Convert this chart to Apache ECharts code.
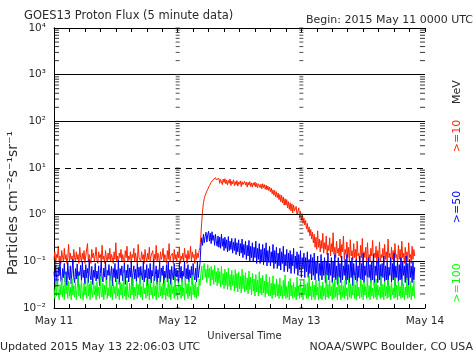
<!DOCTYPE html>
<html><head><meta charset="utf-8">
<script src="https://cdn.jsdelivr.net/npm/echarts@6/dist/echarts.min.js"></script>
<style>html,body{margin:0;padding:0;background:#fff}#c{width:474px;height:355px}</style>
</head><body><div id="c"></div>
<script>
// first sample time (hours after 2015 May 11 00:00 UTC) and sample step (hours)
const startHour = 0;
const stepHours = 1/6;

// >=10 MeV
const red = [
0.11,0.16,0.09,0.14,0.12,0.21,0.10,0.13,0.09,0.17,
0.12,0.10,0.19,0.11,0.14,0.09,0.12,0.23,0.10,0.15,
0.11,0.13,0.09,0.18,0.12,0.10,0.16,0.11,0.14,0.09,
0.20,0.12,0.10,0.15,0.11,0.17,0.09,0.13,0.12,0.24,
0.10,0.14,0.11,0.09,0.18,0.12,0.15,0.10,0.13,0.20,
0.11,0.09,0.16,0.12,0.14,0.10,0.22,0.11,0.13,0.09,
0.17,0.12,0.10,0.15,0.11,0.19,0.10,0.14,0.12,0.09,
0.16,0.11,0.25,0.10,0.13,0.09,0.15,0.12,0.18,0.10,
0.14,0.11,0.09,0.17,0.12,0.21,0.10,0.13,0.11,0.16,
0.09,0.14,0.12,0.19,0.10,0.15,0.11,0.09,0.23,0.12,
0.13,0.10,0.16,0.11,0.14,0.09,0.18,0.12,0.10,0.15,
0.11,0.20,0.10,0.13,0.12,0.17,0.09,0.14,0.11,0.22,
0.10,0.15,0.12,0.09,0.16,0.11,0.13,0.19,0.10,0.14,
0.12,0.09,0.17,0.11,0.24,0.10,0.13,0.12,0.15,0.09,
0.18,0.11,0.14,0.10,0.16,0.12,0.20,0.09,0.13,0.11,
0.15,0.10,0.19,0.12,0.14,0.09,0.17,0.11,0.13,0.21,
0.10,0.16,0.12,0.14,0.09,0.18,0.11,0.15,0.12,0.17,
0.2,0.35,0.7,1.2,1.8,2.2,2.6,2.9,3.1,3.5,3.8,4.2,4.4,4.9,5.2,5.5,5.3,5.9,6.2,5.6,6.0,
5.1,6.0,4.7,5.7,5.0,4.4,5.8,4.9,5.9,4.6,
5.5,4.3,5.4,4.7,5.8,4.2,5.2,4.6,5.6,4.2,
5.1,4.4,5.4,4.1,5.0,4.5,5.3,4.0,5.1,4.4,
4.1,5.2,4.3,5.0,3.9,4.9,4.3,5.1,4.0,4.8,
3.9,4.8,4.2,5.0,3.9,4.7,3.8,4.6,4.8,3.8,
4.5,3.6,4.6,3.8,4.4,3.5,4.3,3.4,4.1,3.3,
3.9,3.1,3.7,2.8,3.4,2.6,3.3,2.4,3.1,2.3,
2.9,2.1,2.7,1.9,2.6,1.8,2.4,1.6,2.2,1.6,
2.1,1.4,1.9,1.3,1.8,1.2,1.7,1.1,1.6,1.2,
1.2,1.5,1.0,1.1,1.4,0.85,1.2,0.75,1.05,0.65,
0.85,0.6,0.75,0.5,0.65,0.42,0.55,0.35,0.48,0.3,
0.42,0.25,0.38,0.2,0.33,0.18,0.45,0.2,0.3,0.16,
0.28,0.19,0.4,0.15,0.25,0.18,0.35,0.14,0.22,0.17,
0.32,0.13,0.24,0.16,0.41,0.14,0.2,0.12,0.27,0.15,
0.19,0.13,0.3,0.12,0.23,0.16,0.35,0.11,0.18,0.14,
0.26,0.12,0.2,0.1,0.29,0.13,0.17,0.11,0.24,0.12,
0.18,0.1,0.27,0.13,0.15,0.09,0.22,0.12,0.31,0.1,
0.16,0.12,0.2,0.09,0.25,0.11,0.14,0.1,0.19,0.13,
0.28,0.1,0.15,0.12,0.21,0.09,0.17,0.11,0.26,0.1,
0.14,0.12,0.19,0.09,0.23,0.11,0.16,0.1,0.3,0.12,
0.15,0.09,0.2,0.11,0.17,0.1,0.24,0.12,0.14,0.09,
0.22,0.11,0.18,0.1,0.27,0.12,0.15,0.09,0.2,0.11,
0.16,0.1,0.25,0.12,0.14,0.09,0.21,0.11,0.18,0.13
];
// >=50 MeV
const blue = [
0.06,0.035,0.085,0.045,0.03,0.075,0.05,0.1,0.04,0.032,
0.07,0.045,0.09,0.036,0.06,0.03,0.095,0.05,0.04,0.08,
0.033,0.065,0.11,0.045,0.035,0.07,0.042,0.088,0.03,0.06,
0.05,0.082,0.038,0.1,0.045,0.065,0.032,0.085,0.044,0.07,
0.035,0.11,0.05,0.04,0.078,0.032,0.065,0.045,0.09,0.038,
0.062,0.042,0.08,0.03,0.055,0.098,0.044,0.036,0.072,0.046,
0.1,0.033,0.064,0.05,0.085,0.038,0.052,0.078,0.03,0.07,
0.045,0.09,0.036,0.066,0.042,0.105,0.032,0.07,0.05,0.08,
0.038,0.055,0.092,0.032,0.065,0.044,0.085,0.036,0.072,0.046,
0.1,0.03,0.058,0.08,0.042,0.068,0.036,0.09,0.045,0.075,
0.033,0.078,0.05,0.04,0.1,0.036,0.066,0.044,0.085,0.03,
0.07,0.042,0.09,0.034,0.064,0.048,0.11,0.038,0.052,0.08,
0.032,0.066,0.044,0.095,0.036,0.072,0.05,0.08,0.03,0.062,
0.045,0.085,0.036,0.1,0.042,0.066,0.032,0.078,0.05,0.04,
0.09,0.035,0.07,0.046,0.064,0.03,0.095,0.044,0.078,0.036,
0.062,0.048,0.1,0.032,0.07,0.042,0.085,0.036,0.066,0.044,
0.078,0.032,0.09,0.05,0.04,0.072,0.036,0.1,0.045,0.065,
0.09,0.2,0.32,0.22,0.38,0.25,0.34,0.42,0.26,0.37,0.44,0.27,0.4,0.24,0.43,0.28,0.36,0.22,0.38,0.26,0.21,
0.35,0.2,0.33,0.19,0.38,0.21,0.31,0.17,0.33,0.19,
0.29,0.16,0.34,0.17,0.27,0.18,0.31,0.15,0.26,0.17,
0.31,0.14,0.25,0.16,0.29,0.13,0.24,0.15,0.3,0.12,
0.23,0.14,0.27,0.11,0.22,0.13,0.28,0.1,0.21,0.12,
0.25,0.1,0.2,0.12,0.27,0.09,0.19,0.11,0.24,0.09,
0.18,0.1,0.23,0.085,0.19,0.1,0.25,0.08,0.17,0.095,
0.21,0.08,0.16,0.095,0.23,0.07,0.17,0.09,0.2,0.07,
0.15,0.08,0.19,0.065,0.16,0.09,0.21,0.06,0.14,0.08,
0.18,0.06,0.15,0.07,0.17,0.055,0.14,0.08,0.19,0.055,
0.13,0.07,0.16,0.05,0.14,0.065,0.17,0.045,0.12,0.07,
0.15,0.045,0.12,0.06,0.16,0.045,0.11,0.055,0.14,0.04,
0.12,0.05,0.15,0.04,0.1,0.055,0.13,0.038,0.09,0.05,
0.14,0.04,0.1,0.05,0.12,0.035,0.1,0.05,0.15,0.04,
0.09,0.05,0.12,0.035,0.1,0.045,0.14,0.04,0.08,0.032,
0.12,0.045,0.09,0.035,0.13,0.04,0.08,0.05,0.11,0.032,
0.14,0.04,0.085,0.035,0.1,0.045,0.12,0.03,0.09,0.05,
0.04,0.11,0.035,0.08,0.045,0.13,0.03,0.09,0.04,0.15,
0.035,0.08,0.05,0.1,0.03,0.12,0.045,0.085,0.035,0.1,
0.04,0.14,0.03,0.08,0.05,0.1,0.035,0.12,0.04,0.085,
0.03,0.09,0.045,0.13,0.035,0.08,0.04,0.1,0.03,0.075,
0.05,0.12,0.035,0.09,0.04,0.15,0.03,0.08,0.045,0.1,
0.035,0.085,0.04,0.12,0.03,0.1,0.05,0.08,0.035,0.13,
0.04,0.09,0.03,0.11,0.045,0.08,0.035,0.1,0.04,0.075
];
// >=100 MeV
const green = [
0.026,0.016,0.036,0.018,0.045,0.02,0.015,0.032,0.019,0.04,
0.017,0.03,0.015,0.052,0.02,0.031,0.016,0.038,0.018,0.028,
0.015,0.043,0.019,0.03,0.017,0.035,0.015,0.026,0.048,0.018,
0.032,0.016,0.039,0.02,0.015,0.034,0.019,0.029,0.016,0.055,
0.018,0.033,0.015,0.038,0.021,0.017,0.042,0.019,0.03,0.015,
0.037,0.018,0.028,0.016,0.047,0.02,0.017,0.034,0.015,0.031,
0.019,0.04,0.016,0.027,0.018,0.05,0.017,0.03,0.015,0.035,
0.02,0.029,0.016,0.042,0.018,0.026,0.015,0.036,0.019,0.033,
0.016,0.057,0.018,0.029,0.015,0.039,0.02,0.017,0.034,0.016,
0.03,0.019,0.044,0.015,0.028,0.018,0.037,0.016,0.032,0.019,
0.049,0.017,0.029,0.015,0.035,0.02,0.027,0.016,0.041,0.018,
0.033,0.015,0.039,0.019,0.028,0.016,0.046,0.018,0.03,0.015,
0.036,0.02,0.017,0.052,0.018,0.029,0.016,0.034,0.019,0.04,
0.015,0.027,0.018,0.043,0.017,0.032,0.015,0.037,0.02,0.029,
0.016,0.048,0.018,0.028,0.015,0.035,0.019,0.031,0.016,0.041,
0.018,0.027,0.015,0.044,0.02,0.033,0.016,0.039,0.018,0.029,
0.015,0.051,0.019,0.032,0.017,0.036,0.016,0.028,0.018,0.042,
0.03,0.055,0.08,0.04,0.07,0.09,0.045,0.068,0.035,0.085,0.045,0.072,0.03,0.078,0.04,0.066,0.032,0.082,0.036,0.06,0.03,
0.072,0.034,0.06,0.028,0.078,0.032,0.055,0.026,0.068,0.03,
0.058,0.025,0.072,0.029,0.052,0.024,0.064,0.03,0.05,0.023,
0.066,0.027,0.055,0.022,0.06,0.026,0.048,0.021,0.068,0.026,
0.05,0.022,0.057,0.024,0.044,0.02,0.062,0.025,0.046,0.019,
0.055,0.023,0.042,0.018,0.052,0.022,0.04,0.018,0.06,0.021,
0.044,0.019,0.05,0.021,0.038,0.017,0.053,0.02,0.036,0.018,
0.046,0.018,0.034,0.016,0.049,0.019,0.033,0.017,0.042,0.018,
0.032,0.016,0.044,0.018,0.03,0.016,0.039,0.018,0.051,0.016,
0.029,0.017,0.037,0.015,0.043,0.018,0.031,0.016,0.035,0.017,
0.028,0.015,0.046,0.018,0.03,0.016,0.038,0.017,0.027,0.015,
0.042,0.019,0.032,0.016,0.035,0.016,0.049,0.018,0.029,0.015,
0.037,0.017,0.031,0.015,0.04,0.019,0.028,0.015,0.045,0.016,
0.03,0.015,0.036,0.018,0.027,0.015,0.052,0.017,0.032,0.016,
0.039,0.018,0.029,0.015,0.035,0.016,0.042,0.017,0.028,0.015,
0.047,0.019,0.031,0.015,0.037,0.017,0.03,0.016,0.04,0.018,
0.027,0.015,0.043,0.017,0.033,0.016,0.029,0.019,0.05,0.016,
0.031,0.015,0.038,0.018,0.028,0.016,0.041,0.017,0.032,0.015,
0.036,0.019,0.029,0.016,0.046,0.017,0.03,0.015,0.039,0.018,
0.027,0.016,0.035,0.017,0.042,0.015,0.031,0.019,0.028,0.016,
0.048,0.017,0.032,0.015,0.037,0.018,0.029,0.016,0.04,0.017,
0.03,0.015,0.036,0.019,0.027,0.016,0.045,0.017,0.031,0.015,
0.038,0.018,0.029,0.016,0.041,0.017,0.033,0.015,0.028,0.019,
0.044,0.016,0.031,0.017,0.037,0.015,0.029,0.018,0.039,0.016
];

const dayLabels = ['May 11','May 12','May 13','May 14'];
const yTickValues = [0.01,0.1,1,10,100,1000,10000];
const yTickLabels = ['10⁻²','10⁻¹','10⁰','10¹','10²','10³','10⁴'];
const solidDecades = [0.1,1,100,1000];
const dashedDecades = [10];
const minorMults = [2,3,4,5,6,7,8,9];
const dayLineHours = [24,48];
const xMin = 0, xMax = 72, xTickStep = 3;

function pairs(arr){ return arr.map((v,i)=>[startHour+i*stepHours, v]); }

const minorVals = [];
for (let k=-2;k<4;k++) for (const m of minorMults) minorVals.push(+(m*Math.pow(10,k)).toPrecision(3));
const dayTickVals = minorVals.concat(yTickValues);

const FONT = 'DejaVu Sans';
const TXT = '#2a2a2a';
const RED = '#ff2200', BLUE = '#0000ff', GREEN = '#00ff00';

const chart = echarts.init(document.getElementById('c'), null, {renderer:'canvas'});
chart.setOption({
  animation:false,
  backgroundColor:'#fff',
  title:[
    {text:'GOES13 Proton Flux (5 minute data)', left:19, top:5, textStyle:{fontFamily:FONT,fontSize:11.5,fontWeight:'normal',color:TXT}},
    {text:'Begin: 2015 May 11 0000 UTC', right:-4, top:10, textStyle:{fontFamily:FONT,fontSize:11,fontWeight:'normal',color:TXT}}
  ],
  grid:{left:54,right:49,top:28,bottom:47,containLabel:false},
  xAxis:[
    {type:'value',position:'bottom',min:xMin,max:xMax,interval:xTickStep,
     axisLine:{lineStyle:{color:'#000',width:1}},
     axisTick:{inside:true,length:4,lineStyle:{color:'#000'}},
     splitLine:{show:false},
     axisLabel:{showMinLabel:true,showMaxLabel:true,margin:8,fontFamily:FONT,fontSize:10.5,color:TXT,
       formatter:v=> (v%24===0 ? dayLabels[v/24] : '')},
     name:'Universal Time',nameLocation:'middle',nameGap:20,
     nameTextStyle:{fontFamily:FONT,fontSize:10,color:TXT,padding:[0,0,0,10]}},
    {type:'value',position:'top',min:xMin,max:xMax,interval:xTickStep,
     axisLine:{lineStyle:{color:'#000',width:1}},
     axisTick:{inside:true,length:4,lineStyle:{color:'#000'}},
     splitLine:{show:false},axisLabel:{show:false}}
  ],
  yAxis:[
    {type:'log',logBase:10,min:0.01,max:10000,splitNumber:6,position:'left',
     axisLine:{show:true,lineStyle:{color:'#000',width:1}},
     axisTick:{show:false},splitLine:{show:false},
     axisLabel:{margin:8,fontFamily:FONT,fontSize:10.5,color:TXT,customValues:yTickValues,padding:[3,0,0,0],
       formatter:v=>{const i=yTickValues.findIndex(t=>Math.abs(Math.log10(t)-Math.log10(v))<1e-6);return i<0?'':yTickLabels[i];}}},
    {type:'log',logBase:10,min:0.01,max:10000,position:'right',
     axisLine:{show:true,lineStyle:{color:'#000',width:1}},
     axisTick:{show:false},splitLine:{show:false},axisLabel:{show:false}}
  ],
  series:[
    {name:'>=10 MeV',type:'line',data:pairs(red),showSymbol:false,symbol:'none',z:2,
     lineStyle:{color:RED,width:1},itemStyle:{color:RED}},
    {name:'>=50 MeV',type:'line',data:pairs(blue),showSymbol:false,symbol:'none',z:3,
     lineStyle:{color:BLUE,width:1},itemStyle:{color:BLUE}},
    {name:'>=100 MeV',type:'line',data:pairs(green),showSymbol:false,symbol:'none',z:4,
     lineStyle:{color:GREEN,width:1},itemStyle:{color:GREEN}},
    {name:'leftTicks',type:'scatter',silent:true,z:6,symbol:'rect',symbolSize:[5,1],symbolOffset:[2.5,0],
     itemStyle:{color:'#000'},data:minorVals.map(v=>[xMin,v]),
     markLine:{silent:true,symbol:'none',label:{show:false},animation:false,
       lineStyle:{color:'#000',width:1},
       emphasis:{disabled:true},
       data:[...solidDecades.map(v=>({yAxis:v,lineStyle:{type:'solid',color:'#000',width:1}})),
             ...dashedDecades.map(v=>({yAxis:v,lineStyle:{type:[6,5],color:'#000',width:1}}))]}},
    {name:'rightTicks',type:'scatter',silent:true,z:6,symbol:'rect',symbolSize:[5,1],symbolOffset:[-2.5,0],
     itemStyle:{color:'#000'},data:minorVals.map(v=>[xMax,v])},
    {name:'dayTicks',type:'scatter',silent:true,z:6,symbol:'rect',symbolSize:[4,1],
     itemStyle:{color:'#222'},data:dayLineHours.flatMap(h=>dayTickVals.map(v=>[h,v]))}
  ],
  graphic:[
    {type:'text',x:13,y:203,rotation:Math.PI/2,style:{text:'Particles cm⁻²s⁻¹sr⁻¹',align:'center',verticalAlign:'middle',font:'14px "DejaVu Sans"',fill:TXT}},
    {type:'text',x:457,y:92,rotation:Math.PI/2,style:{text:'MeV',align:'center',verticalAlign:'middle',font:'11px "DejaVu Sans"',fill:TXT}},
    {type:'text',x:457,y:136,rotation:Math.PI/2,style:{text:'>=10',align:'center',verticalAlign:'middle',font:'11px "DejaVu Sans"',fill:RED}},
    {type:'text',x:457,y:207,rotation:Math.PI/2,style:{text:'>=50',align:'center',verticalAlign:'middle',font:'11px "DejaVu Sans"',fill:BLUE}},
    {type:'text',x:457,y:283,rotation:Math.PI/2,style:{text:'>=100',align:'center',verticalAlign:'middle',font:'11px "DejaVu Sans"',fill:GREEN}},
    {type:'text',x:0,y:347,style:{text:'Updated 2015 May 13 22:06:03 UTC',align:'left',verticalAlign:'middle',font:'11px "DejaVu Sans"',fill:TXT}},
    {type:'text',x:473,y:347,style:{text:'NOAA/SWPC Boulder, CO USA',align:'right',verticalAlign:'middle',font:'11px "DejaVu Sans"',fill:TXT}}
  ]
});
</script></body></html>
